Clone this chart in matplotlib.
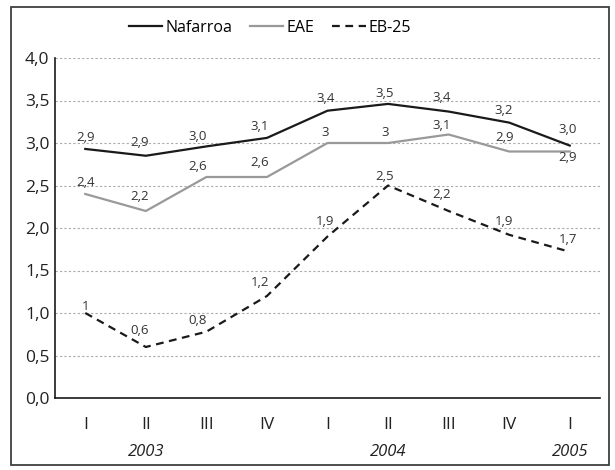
import matplotlib.pyplot as plt
from matplotlib.patches import Rectangle

plt.rcParams['font.family'] = ['Open Sans', 'DejaVu Sans']

quarters = ["I", "II", "III", "IV", "I", "II", "III", "IV", "I"]
years = ["2003", "2004", "2005"]
year_pos = [1, 5, 8]

nafarroa = [2.93, 2.85, 2.96, 3.06, 3.38, 3.46, 3.37, 3.24, 2.97]
nafarroa_lbl = ["2,9", "2,9", "3,0", "3,1", "3,4", "3,5", "3,4", "3,2", "3,0"]
eae = [2.4, 2.2, 2.6, 2.6, 3.0, 3.0, 3.1, 2.9, 2.9]
eae_lbl = ["2,4", "2,2", "2,6", "2,6", "3", "3", "3,1", "2,9", "2,9"]
eb25 = [1.0, 0.6, 0.78, 1.2, 1.9, 2.5, 2.2, 1.92, 1.72]
eb25_lbl = ["1", "0,6", "0,8", "1,2", "1,9", "2,5", "2,2", "1,9", "1,7"]

# label placement, pixels relative to the point
dx = [0, -6, -9, -7, -2, -3, -7, -5, -2]
naf_dy = [11, 13, 10, 11, 12, 10, 14, 12, 16]
eae_dy = [11, 15, 11, 14, 11, 11, 9, 14, -6]
eb_dy = [7, 16, 11, 14, 15, 9, 17, 13, 12]

fig = plt.figure(figsize=(6.15, 4.70), dpi=100)
ax = fig.add_axes([55 / 615, 72 / 470, 545 / 615, 340 / 470])

x = range(len(quarters))
l1, = ax.plot(x, nafarroa, color='#1a1a1a', lw=1.6, label='Nafarroa')
l2, = ax.plot(x, eae, color='#999999', lw=1.6, label='EAE')
l3, = ax.plot(x, eb25, color='#1a1a1a', lw=1.6, ls=(0, (3.5, 2.5)), label='EB-25')

for vals, lbls, dys in [(nafarroa, nafarroa_lbl, naf_dy), (eae, eae_lbl, eae_dy), (eb25, eb25_lbl, eb_dy)]:
    for i, (v, t) in enumerate(zip(vals, lbls)):
        ax.annotate(t, (i, v), xytext=(dx[i], dys[i]), textcoords='offset pixels',
                    ha='center', va='center', fontsize=9.5, color='#333333')

ax.set_xlim(-0.5, len(quarters) - 0.5)
ax.set_ylim(0, 4)
ax.set_yticks([0, 0.5, 1, 1.5, 2, 2.5, 3, 3.5, 4])
ax.set_yticklabels(["0,0", "0,5", "1,0", "1,5", "2,0", "2,5", "3,0", "3,5", "4,0"],
                   fontsize=12.5, color='#222222')
ax.set_xticks(list(x))
ax.set_xticklabels(quarters, fontsize=12.5, color='#222222')
ax.tick_params(length=0, axis='x', pad=14)
ax.tick_params(length=0, axis='y', pad=4)
ax.grid(axis='y', ls=(0, (2, 2)), color='#aaaaaa', lw=0.8)
ax.set_axisbelow(True)
for s in ['top', 'right']:
    ax.spines[s].set_visible(False)
for s in ['left', 'bottom']:
    ax.spines[s].set_color('#1a1a1a')
    ax.spines[s].set_linewidth(1.2)

for p, yr in zip(year_pos, years):
    ax.text(p, -0.63, yr, ha='center', va='center', fontsize=12, style='italic',
            color='#222222', clip_on=False)

fig.legend(handles=[l1, l2, l3], loc='center', bbox_to_anchor=(270 / 615, 1 - 28 / 470),
           ncol=3, frameon=False, fontsize=11.5, handlelength=2.1, columnspacing=1.1,
           handletextpad=0.2)

fig.patches.append(Rectangle((11 / 615, 5 / 470), 598 / 615, 458 / 470, transform=fig.transFigure,
                             fill=False, edgecolor='#404040', lw=1.3))

fig.savefig('out.png', dpi=100)
